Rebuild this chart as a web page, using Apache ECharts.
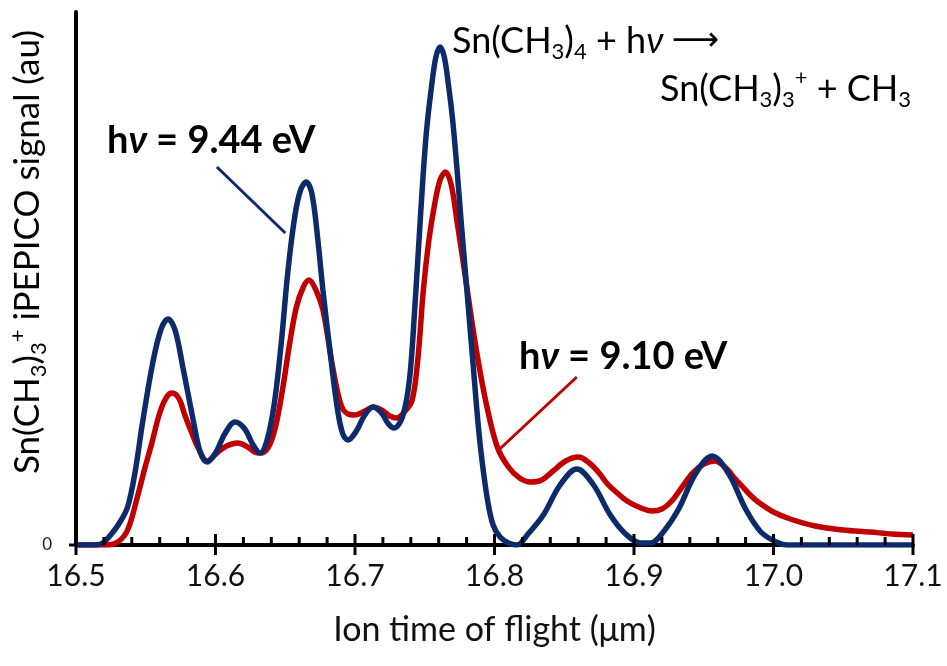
<!DOCTYPE html>
<html>
<head>
<meta charset="utf-8">
<script src="https://cdn.jsdelivr.net/npm/echarts@6/dist/echarts.min.js"></script>
<style>
html, body { margin: 0; padding: 0; background: #fff; }
#main { width: 947px; height: 666px; }
</style>
</head>
<body>
<div id="main"></div>
<script>
// hv = 9.44 eV trace (ion time of flight, signal in au)
var blueTof = [16.500, 16.512, 16.519, 16.526, 16.532, 16.537, 16.542, 16.548, 16.555, 16.561,
    16.566, 16.571, 16.577, 16.584, 16.589, 16.594, 16.600, 16.607, 16.614, 16.621,
    16.627, 16.632, 16.637, 16.642, 16.647, 16.652, 16.657, 16.661, 16.665, 16.669,
    16.673, 16.677, 16.682, 16.687, 16.691, 16.695, 16.701, 16.707, 16.713, 16.719,
    16.724, 16.728, 16.734, 16.739, 16.743, 16.747, 16.751, 16.755, 16.758, 16.761,
    16.764, 16.767, 16.770, 16.773, 16.776, 16.779, 16.782, 16.785, 16.788, 16.791,
    16.795, 16.799, 16.804, 16.810, 16.816, 16.824, 16.835, 16.847, 16.859, 16.871,
    16.883, 16.894, 16.905, 16.912, 16.921, 16.932, 16.944, 16.956, 16.968, 16.980,
    16.991, 17.002, 17.010, 17.100];
var blueSignal = [0, 0, 2, 12, 24, 38, 70, 125, 182, 216,
    226, 215, 175, 125, 93, 83, 92, 112, 123, 116,
    100, 92, 105, 140, 200, 275, 330, 355, 363, 352,
    310, 255, 195, 140, 112, 105, 114, 130, 138, 132,
    121, 117, 128, 165, 240, 330, 410, 460, 488, 498,
    488, 460, 425, 378, 325, 275, 225, 175, 125, 85,
    45, 20, 8, 2, 0, 11, 30, 60, 76, 60,
    30, 11, 2, 2, 13, 36, 71, 89, 71, 36,
    13, 3, 0, 0];

// hv = 9.10 eV trace
var redTof = [16.500, 16.522, 16.530, 16.537, 16.544, 16.549, 16.554, 16.560, 16.565, 16.569,
    16.574, 16.578, 16.583, 16.588, 16.594, 16.601, 16.608, 16.616, 16.623, 16.628,
    16.632, 16.638, 16.643, 16.648, 16.653, 16.658, 16.663, 16.667, 16.672, 16.677,
    16.684, 16.690, 16.695, 16.700, 16.707, 16.713, 16.719, 16.725, 16.730, 16.736,
    16.741, 16.745, 16.749, 16.753, 16.757, 16.761, 16.765, 16.769, 16.773, 16.777,
    16.781, 16.787, 16.794, 16.802, 16.810, 16.818, 16.826, 16.834, 16.842, 16.851,
    16.860, 16.868, 16.875, 16.881, 16.888, 16.895, 16.905, 16.913, 16.920, 16.927,
    16.934, 16.942, 16.950, 16.958, 16.966, 16.972, 16.978, 16.984, 16.990, 17.000,
    17.012, 17.030, 17.050, 17.069, 17.085, 17.100];
var redSignal = [0, 0, 3, 15, 48, 75, 100, 132, 148, 152,
    146, 130, 112, 96, 84, 92, 99, 102, 98, 93,
    92, 98, 118, 155, 200, 238, 258, 265, 255, 235,
    178, 140, 131, 130, 134, 138, 135, 129, 127, 134,
    145, 185, 255, 305, 340, 365, 373, 360, 325, 288,
    250, 195, 142, 98, 78, 67, 63, 65, 74, 84,
    88, 82, 72, 61, 52, 44, 37, 34, 36, 44,
    57, 72, 81, 84, 77, 67, 58, 49, 42, 33,
    26, 19, 15, 13, 11, 10];

// x ticks: labelled majors, 4 minors between each pair
var majorTicks = [16.5, 16.6, 16.7, 16.8, 16.9, 17.0, 17.1];
var minorPerMajor = 5;

// leader lines for the two labels, in data units
var blueLeader = [[16.601, 378], [16.650, 312]];
var redLeader = [[16.859, 168], [16.803, 95]];

var BLUE = '#0d2b6b';
var RED = '#c00000';
var FONT = 'Lato, "Open Sans", sans-serif';

function pairs(xs, ys) {
    var out = [];
    for (var i = 0; i < xs.length; i++) out.push([xs[i], ys[i]]);
    return out;
}

// rich styles for sub/superscripts
function richFor(size, color, bold) {
    var w = bold ? 'bold' : 'normal';
    var small = Math.round(size * 0.62);
    return {
        n: { fontSize: size, fontFamily: FONT, color: color, fontWeight: w, lineHeight: size + 8 },
        i: { fontSize: size, fontFamily: FONT, color: color, fontWeight: w, fontStyle: 'italic', lineHeight: size + 8 },
        sub: { fontSize: small, fontFamily: FONT, color: color, verticalAlign: 'bottom', lineHeight: small },
        sup: { fontSize: small, fontFamily: FONT, color: color, verticalAlign: 'top', lineHeight: small },
        arr: { fontSize: 33, fontFamily: '"DejaVu Sans"', color: color, lineHeight: size + 8 }
    };
}

var chart = echarts.init(document.getElementById('main'));

var option = {
    animation: false,
    grid: {
        left: 76,
        right: 34,
        top: 12,
        bottom: 121,
        outerBoundsMode: 'none'
    },
    xAxis: {
        type: 'value',
        min: majorTicks[0],
        max: majorTicks[majorTicks.length - 1],
        interval: 0.1,
        axisLine: { show: true, onZero: false, lineStyle: { color: '#000', width: 4 } },
        axisTick: { show: false },
        axisLabel: {
            margin: 16,
            fontSize: 30,
            fontFamily: FONT,
            color: '#111',
            formatter: function (v) { return v.toFixed(1); }
        },
        splitLine: { show: false },
        name: 'Ion time of flight (\u03bcm)',
        nameLocation: 'middle',
        nameGap: 68,
        nameTextStyle: { fontSize: 34, fontFamily: FONT, color: '#111' }
    },
    yAxis: {
        type: 'value',
        min: 0,
        max: 533,
        interval: 533,
        axisLine: { show: true, onZero: false, lineStyle: { color: '#000', width: 4 } },
        axisTick: { show: false },
        axisLabel: {
            customValues: [0],
            margin: 24,
            fontSize: 17,
            fontFamily: FONT,
            color: '#222'
        },
        splitLine: { show: false }
    },
    series: [
        {
            name: 'hv = 9.10 eV',
            type: 'line',
            data: pairs(redTof, redSignal),
            showSymbol: false,
            smooth: 0.35,
            lineStyle: { color: RED, width: 5.5 },
            itemStyle: { color: RED },
            z: 2,
            markLine: {
                silent: true,
                symbol: ['none', 'none'],
                label: { show: false },
                lineStyle: { color: RED, width: 3, type: 'solid' },
                data: [[{ coord: redLeader[0] }, { coord: redLeader[1] }]]
            }
        },
        {
            name: 'hv = 9.44 eV',
            type: 'line',
            data: pairs(blueTof, blueSignal),
            showSymbol: false,
            smooth: 0.35,
            lineStyle: { color: BLUE, width: 5.5 },
            itemStyle: { color: BLUE },
            z: 3,
            markLine: {
                silent: true,
                symbol: ['none', 'none'],
                label: { show: false },
                lineStyle: { color: BLUE, width: 3, type: 'solid' },
                data: [[{ coord: blueLeader[0] }, { coord: blueLeader[1] }]]
            }
        }
    ],
    graphic: [
        {
            // y axis title
            type: 'text',
            x: 28,
            y: 252,
            rotation: Math.PI / 2,
            style: {
                text: '{n|Sn(CH}{sub|3}{n|)}{sub|3}{sup|+}{n| iPEPICO signal (au)}',
                rich: richFor(35, '#111', false),
                align: 'center',
                verticalAlign: 'middle'
            }
        },
        {
            type: 'text',
            x: 452,
            y: 41,
            style: {
                text: '{n|Sn(CH}{sub|3}{n|)}{sub|4}{n| + h}{i|\u03bd }{arr|\u27f6}',
                rich: richFor(36, '#111', false),
                align: 'left',
                verticalAlign: 'middle'
            }
        },
        {
            type: 'text',
            x: 660,
            y: 89,
            style: {
                text: '{n|Sn(CH}{sub|3}{n|)}{sub|3}{sup|+}{n| + CH}{sub|3}',
                rich: richFor(36, '#111', false),
                align: 'left',
                verticalAlign: 'middle'
            }
        },
        {
            type: 'text',
            x: 107,
            y: 141,
            style: {
                text: '{n|h}{i|\u03bd}{n| = 9.44 eV}',
                rich: richFor(38, BLUE, true),
                align: 'left',
                verticalAlign: 'middle'
            }
        },
        {
            type: 'text',
            x: 519,
            y: 357,
            style: {
                text: '{n|h}{i|\u03bd}{n| = 9.10 eV}',
                rich: richFor(38, RED, true),
                align: 'left',
                verticalAlign: 'middle'
            }
        }
    ]
};

chart.setOption(option);

// tick marks as filled bars, placed through the axes' own scales
var zr = chart.getZr();
function tickBar(x, y, w, h) {
    zr.add(new echarts.graphic.Rect({
        silent: true,
        z: 100,
        shape: { x: x, y: y, width: w, height: h },
        style: { fill: '#000' }
    }));
}
var y0 = chart.convertToPixel({ yAxisIndex: 0 }, 0);
var xLeft = chart.convertToPixel({ xAxisIndex: 0 }, majorTicks[0]);
majorTicks.forEach(function (v, i) {
    var px = chart.convertToPixel({ xAxisIndex: 0 }, v);
    tickBar(px - 1.5, y0 - 11, 3, 21);
    if (i < majorTicks.length - 1) {
        var step = (majorTicks[i + 1] - v) / minorPerMajor;
        for (var k = 1; k < minorPerMajor; k++) {
            var mx = chart.convertToPixel({ xAxisIndex: 0 }, v + k * step);
            tickBar(mx - 1.5, y0 - 8, 3, 8);
        }
    }
});
tickBar(xLeft - 7, y0 - 1.5, 7, 3);
</script>
</body>
</html>
